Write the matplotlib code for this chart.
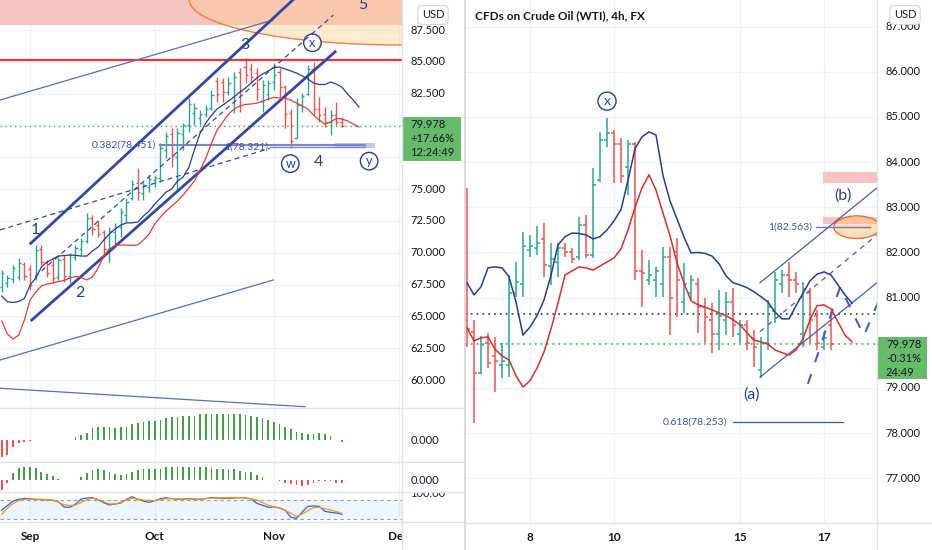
import numpy as np
import matplotlib
matplotlib.use("Agg")
import matplotlib.pyplot as plt
from matplotlib.patches import Rectangle, Ellipse
from matplotlib.lines import Line2D

plt.rcParams['font.family'] = ['Lato', 'DejaVu Sans']

W, H = 932, 550
UP, DOWN = '#26a69a', '#ef5350'
NAVY = '#2b3a97'
LABEL = '#22409a'
GRID = '#eef1f6'
SEP = '#e0e3eb'

# ---------------- daily chart (bar 0 = 1 Sep) ----------------
day_idx = np.arange(-5, 56)
day_open = [67.3, 67.6, 67.9, 68.1, 69.1, 68.7, 68.0, 70.3, 69.3, 69.0,
            68.1, 69.5, 68.2, 69.7, 70.3, 70.9, 72.7, 72.2, 71.6, 70.3,
            71.6, 72.0, 73.0, 74.3, 75.5, 74.7, 75.2, 75.7, 75.9, 78.1,
            79.3, 77.5, 79.3, 80.0, 81.0, 80.6, 80.9, 81.4, 83.5, 83.4,
            82.6, 82.2, 84.2, 84.6, 84.4, 84.1, 81.9, 82.5, 83.4, 84.2,
            83.0, 81.0, 79.0, 81.6, 82.5, 84.4, 81.3, 80.9, 80.3, 80.8, 80.3]
day_high = [68.64, 68.25, 69.04, 69.56, 69.3, 69.04, 70.6, 70.6, 69.43, 69.56,
            69.7, 69.82, 69.96, 70.6, 71.16, 73.1, 72.96, 72.57, 71.78, 72.05,
            72.3, 73.5, 74.3, 75.7, 76.66, 75.58, 76.1, 76.1, 78.6, 79.51,
            79.78, 79.78, 80.2, 82.13, 81.76, 81.21, 81.6, 82.79, 83.83, 83.7,
            83.83, 84.23, 84.49, 85.28, 84.88, 84.49, 83.57, 83.57, 84.88, 84.49,
            83.2, 81.3, 82.13, 82.53, 84.75, 85.01, 82.26, 81.47, 81.21, 81.87, 80.69]
day_low = [66.94, 67.33, 67.6, 67.86, 67.86, 67.07, 67.86, 69.04, 68.12, 67.6,
           67.86, 67.73, 67.6, 69.43, 69.82, 70.76, 71.39, 71.26, 69.82, 69.3,
           70.5, 71.26, 72.44, 74.14, 74.14, 74.14, 74.8, 75.2, 75.58, 77.42,
           76.76, 74.93, 78.07, 79.51, 80.04, 80.04, 80.69, 81.21, 81.87, 81.87,
           82.39, 80.95, 81.08, 83.31, 83.44, 82.0, 81.08, 82.0, 82.79, 82.26,
           79.8, 78.25, 78.99, 81.08, 82.4, 80.82, 80.3, 79.9, 79.25, 80.04, 79.9]
day_close = [68.4, 68.0, 68.8, 69.2, 68.2, 67.5, 70.2, 69.3, 68.4, 68.0,
             69.4, 68.2, 69.8, 70.4, 70.9, 72.7, 71.9, 71.5, 70.3, 71.7,
             72.0, 73.2, 74.0, 75.4, 74.8, 75.3, 75.8, 75.9, 78.2, 79.2,
             77.6, 79.4, 80.0, 81.7, 81.4, 80.9, 81.3, 82.4, 82.5, 82.6,
             83.3, 83.8, 82.7, 84.0, 83.8, 82.9, 83.2, 83.3, 84.0, 83.0,
             80.9, 78.8, 81.6, 82.3, 84.4, 81.3, 80.8, 80.3, 80.8, 80.3, 79.978]

# envelope lines run 3 bars past the last bar
day_line_idx = np.arange(-5, 59)
day_upper = [66.6, 66.15, 66.09, 66.17, 66.4, 67.46, 68.01, 68.88, 69.27, 69.51,
             69.74, 69.78, 69.82, 69.8, 69.74, 69.74, 70.14, 70.45, 71.0, 71.47,
             71.86, 72.18, 72.34, 72.35, 72.41, 72.89, 73.28, 73.83, 74.3, 74.77,
             75.01, 75.64, 75.95, 76.7, 78.1, 79.4, 80.2, 80.8, 81.3, 81.61,
             81.92, 82.24, 82.63, 82.94, 83.34, 83.73, 84.04, 84.28, 84.55, 84.59,
             84.44, 84.28, 84.12, 83.89, 83.65, 83.34, 83.22, 83.22, 83.41, 83.26,
             83.02, 82.47, 82.0, 81.45]
day_lower = [64.64, 63.61, 63.22, 63.53, 64.72, 66.29, 66.91, 67.39, 67.54, 67.62,
             67.74, 67.82, 68.01, 68.13, 68.05, 67.86, 68.09, 68.8, 69.74, 70.29,
             70.57, 70.61, 70.61, 70.58, 70.61, 71.0, 71.47, 72.26, 72.81, 73.28,
             73.67, 74.06, 74.54, 75.09, 75.64, 76.5, 77.44, 78.62, 79.64, 80.27,
             80.9, 81.29, 81.53, 81.65, 81.69, 81.76, 81.88, 82.08, 82.21, 82.16,
             82.12, 82.0, 81.76, 81.53, 81.29, 80.82, 80.43, 80.11, 80.27, 80.55,
             80.51, 80.35, 80.11, 79.88]

hist_a = [-17, -15, -7, -3, -1.5, -0.8,
          0.3, 0.3, 0.3, 0.3, 0.3, 0.3, 0.3,
          3, 5, 7, 12, 13, 13, 13, 12, 13, 13,
          16, 17, 18, 19, 19, 20, 22, 23, 23, 24,
          24, 24, 26, 26, 26, 26, 26, 26, 26, 26,
          25, 24, 23, 22, 20, 18, 16, 13, 11, 8,
          7, 6, 6, 7, 6, 4, 0.5, -2]
hist_b = [-10, -3, 7, 12, 13, 13, 12, 8, 6, 4,
          1, 0.5, 0.5, 0.5, 3, 7, 10, 11, 10, 8,
          6, 5, 6, 8, 10, 11, 11, 11, 11, 13,
          13, 13, 13, 13, 13, 13, 13, 12, 11, 11,
          11, 11, 9, 8, 8, 5, 3, 0.5, 0.5, -1,
          -3, -4, -5, -6, -5, -3, -0.5, -0.5, -1, -3, -3]
stoch_k = [48.4, 62, 76.8, 82.1, 85.3, 84.2, 82.1, 81, 80.5, 79,
           74.7, 57.9, 56.8, 66.3, 83.2, 86.3, 87.4, 81, 71.6, 64.2,
           67.4, 70.5, 82.1, 90.5, 82.1, 76.8, 72.6, 77.9, 84.2, 87.4,
           84.2, 82.1, 83.2, 84.2, 83.2, 82.1, 84.2, 87.4, 86.3, 85.3,
           85.3, 86.3, 87.4, 86.3, 83.2, 69.5, 63.2, 56.8, 57.9, 54.7,
           47.4, 25.3, 22.1, 42.1, 60, 61.1, 60, 44.2, 41.1, 39, 34.7]
stoch_d = [34.7, 53.7, 69.5, 77.9, 82.1, 83.2, 82.6, 82.1, 81, 80,
           72.6, 65.3, 62.1, 64.2, 72.6, 81, 85.3, 82.1, 74.7, 67.4,
           67.4, 72.6, 80, 85.3, 83.2, 80, 79, 77.9, 81, 84.2,
           84.2, 83.2, 83.2, 83.2, 82.1, 83.2, 85.3, 85.3, 86.3, 87.4,
           87.4, 88.4, 87.4, 86.3, 84.2, 80, 71.6, 63.2, 58.9, 55.8,
           47.4, 37.9, 28.4, 35.8, 46.3, 55.8, 56.8, 52.6, 48.4, 43.2, 37.9]

day_ticks = [0, 22, 43, 65]
day_tick_labels = ['Sep', 'Oct', 'Nov', 'Dec']
# 80.000 and 77.500 sit under the last-price tag, so they are not shown
day_price_ticks = [87.5, 85.0, 82.5, 80.0, 77.5, 75.0, 72.5, 70.0, 67.5, 65.0, 62.5, 60.0]
day_price_labels = [87.5, 85.0, 82.5, 75.0, 72.5, 70.0, 67.5, 65.0, 62.5, 60.0]

# ---------------- 4h chart (bar 9 = 8 Nov 00:00) ----------------
h4_idx = np.arange(0, 53)
h4_open = [80.5, 80.25, 79.33, 80.0, 79.7, 79.5, 79.5, 81.1, 81.3, 82.05,
           82.1, 82.3, 81.7, 81.8, 82.1, 82.0, 81.9, 82.6, 81.95, 83.6,
           84.5, 84.65, 84.4, 83.9, 84.4, 81.6, 81.4, 81.4, 81.3, 81.9,
           82.0, 80.9, 81.1, 81.3, 80.8, 80.5, 80.2, 80.5, 80.9, 80.2,
           80.4, 80.1, 79.4, 80.0, 80.7, 81.3, 81.5, 81.4, 80.2, 81.1,
           80.6, 79.9, 80.4]
h4_high = [83.43, 80.51, 80.14, 80.22, 80.13, 80.0, 81.5, 81.79, 82.45, 82.39,
           82.59, 82.65, 82.2, 82.2, 82.2, 82.1, 82.79, 82.83, 83.87, 84.67,
           84.98, 84.71, 84.53, 84.49, 84.45, 82.06, 81.83, 81.68, 82.13, 82.13,
           82.32, 81.77, 81.5, 81.44, 81.0, 80.88, 81.17, 81.13, 81.21, 80.5,
           80.5, 80.28, 80.13, 80.95, 81.57, 81.61, 81.79, 81.57, 81.35, 81.21,
           80.73, 80.24, 80.68]
h4_low = [79.91, 78.23, 79.3, 79.44, 78.91, 79.22, 79.24, 81.01, 81.01, 81.9,
          81.94, 81.46, 81.28, 81.46, 81.9, 81.77, 81.83, 81.88, 81.88, 83.56,
          84.34, 83.54, 83.54, 83.27, 81.39, 80.79, 81.28, 81.02, 81.02, 80.17,
          80.57, 80.66, 80.95, 80.22, 80.0, 79.78, 79.84, 80.17, 80.13, 80.0,
          79.84, 79.47, 79.22, 79.84, 80.44, 81.1, 81.02, 81.1, 79.91, 80.0,
          79.84, 79.84, 79.84]
h4_close = [80.3, 79.33, 79.95, 79.55, 79.6, 79.6, 81.1, 81.35, 82.14, 82.15,
            82.2, 81.72, 81.85, 82.1, 82.0, 81.85, 82.6, 81.95, 83.5, 84.5,
            84.65, 84.4, 83.7, 84.4, 81.6, 81.55, 81.5, 81.6, 81.9, 81.0,
            81.4, 81.3, 81.4, 80.8, 80.57, 80.2, 80.6, 80.9, 80.4, 80.4,
            80.0, 79.9, 80.0, 80.8, 81.4, 81.5, 81.4, 81.3, 81.2, 80.5,
            80.0, 80.1, 79.978]
h4_line_idx = np.arange(0, 56)
h4_upper = [81.33, 81.06, 81.24, 81.66, 81.68, 81.66, 81.46, 80.9, 80.17, 80.35,
            80.6, 80.95, 81.5, 82.17, 82.35, 82.43, 82.42, 82.39, 82.3, 82.35,
            82.5, 82.7, 82.95, 83.6, 84.3, 84.56, 84.67, 84.6, 83.7, 83.14,
            82.74, 82.34, 81.99, 82.0, 81.98, 81.92, 81.75, 81.48, 81.33, 81.28,
            81.22, 81.13, 81.02, 80.9, 80.68, 80.53, 80.53, 80.82, 81.1, 81.37,
            81.52, 81.57, 81.5, 81.28, 81.06, 80.88]
h4_lower = [80.33, 80.04, 80.11, 80.13, 79.86, 79.71, 79.62, 79.27, 79.02, 79.16,
            79.44, 79.8, 80.31, 80.88, 81.5, 81.59, 81.68, 81.66, 81.61, 81.7,
            81.79, 81.88, 82.08, 82.5, 83.0, 83.43, 83.72, 83.38, 82.87, 82.37,
            81.77, 81.32, 80.93, 80.84, 80.79, 80.73, 80.66, 80.6, 80.51, 80.4,
            80.22, 80.06, 80.02, 79.97, 79.84, 79.78, 79.73, 79.84, 80.09, 80.51,
            80.82, 80.84, 80.75, 80.46, 80.17, 80.02]
h4_ticks = [9, 21, 39, 51]
h4_tick_labels = ['8', '10', '15', '17']
h4_price_ticks = [87, 86, 85, 84, 83, 82, 81, 80, 79, 78, 77]
h4_price_labels = [87, 86, 85, 84, 83, 82, 81, 79, 78, 77]
last_price = 79.978


def fbox(x0, y0, x1, y1):
    # pixel box (top-left origin) -> figure fraction rect
    return [x0 / W, 1 - y1 / H, (x1 - x0) / W, (y1 - y0) / H]


def fline(x0, y0, x1, y1, **kw):
    fig.add_artist(Line2D([x0 / W, x1 / W], [1 - y0 / H, 1 - y1 / H],
                          transform=fig.transFigure, **kw))


def ftext(x, y, s, **kw):
    fig.text(x / W, 1 - y / H, s, **kw)


def ohlc(ax, x, o, h, l, c, tick, lw=1.0):
    o, h, l, c = map(np.asarray, (o, h, l, c))
    col = np.where(c >= o, UP, DOWN)
    ax.vlines(x, l, h, colors=col, lw=lw)
    ax.hlines(o, x - tick, x, colors=col, lw=lw)
    ax.hlines(c, x, x + tick, colors=col, lw=lw)


def circled(ax, x, y, s, size=9):
    ax.text(x, y, s, ha='center', va='center', fontsize=size, color=LABEL,
            bbox=dict(boxstyle='circle,pad=0.22', fc='white', ec=LABEL, lw=1.0))


def new_ax(box, xlim, ylim):
    a = fig.add_axes(fbox(*box))
    a.set_xlim(*xlim)
    a.set_ylim(*ylim)
    a.set_axis_off()
    return a


fig = plt.figure(figsize=(W / 100, H / 100), dpi=100)

# ================= left: daily =================
LX = (-5.3, 65.6)
ax = new_ax((0, 0, 402, 408), LX, (57.80, 89.86))
ax_h1 = new_ax((0, 408, 402, 462), LX, (-22, 32))
ax_h2 = new_ax((0, 462, 402, 492), LX, (-12, 18))
ax_st = new_ax((0, 492, 402, 522), LX, (10.5, 105.3))
ax_dd = new_ax((0, 522, 402, 550), LX, (0, 1))

for a in (ax, ax_h1, ax_h2, ax_st):
    for t in day_ticks:
        a.axvline(t, color=GRID, lw=0.9, zorder=0)
for p in day_price_ticks:
    ax.axhline(p, color=GRID, lw=0.9, zorder=0)

# zone at the top and target ellipse
ax.axhspan(87.89, 95, color='#f6c3c3', lw=0, zorder=1)
ax.add_patch(Ellipse((65.3, 89.86), 74.4, 7.07, fc='#ffd08a', alpha=0.4,
                     ec='none', zorder=2))
ax.add_patch(Ellipse((65.3, 89.86), 74.4, 7.07, fc='none', ec='#ef7d3c',
                     lw=1.0, zorder=2))

ax.axhline(85.16, color='#e53935', lw=1.6, zorder=3)
ax.axhline(last_price, color='#4caf50', lw=1.0, ls=(0, (1, 2.5)), zorder=3)

# trend lines
ax.plot([-5.29, 42.86], [82.0, 88.29], color='#5c6bc0', lw=0.9, zorder=3)
ax.plot([-5.29, 42.9], [61.57, 67.86], color='#5c6bc0', lw=0.9, zorder=3)
ax.plot([-5.29, 48.5], [59.35, 57.9], color='#5c6bc0', lw=0.9, zorder=3)
ax.plot([0.12, 52.0], [70.74, 92.2], color='#3446a6', lw=2.0, zorder=4)
ax.plot([0.3, 53.8], [64.71, 85.79], color='#3446a6', lw=2.0, zorder=4)
ax.plot([0.88, 53.5], [68.12, 88.68], color='#3446a6', lw=0.9,
        ls=(0, (4, 3)), zorder=4)
ax.plot([-5.29, 42.3], [71.79, 78.2], color='#3446a6', lw=0.9,
        ls=(0, (4, 3)), zorder=4)

# fib levels
ax.add_patch(Rectangle((53.8, 78.25), 7.1, 0.4, fc='#bcc8f0', ec='none', zorder=3))
ax.plot([23.0, 59.0], [78.451, 78.451], color='#7986cb', lw=1.5, zorder=3)
ax.plot([42.3, 59.0], [78.321, 78.321], color='#7986cb', lw=1.0, zorder=3)
ax.text(22.2, 78.451, '0.382(78.451)', ha='right', va='center', fontsize=7.5,
        color='#3f51a5', zorder=5)
ax.text(42.0, 78.321, '1(78.321)', ha='right', va='center', fontsize=7.5,
        color='#3f51a5', zorder=5)

ax.plot(day_line_idx, day_upper, color=NAVY, lw=0.9, zorder=5)
ax.plot(day_line_idx, day_lower, color='#e53935', lw=0.9, zorder=5)
ohlc(ax, day_idx, day_open, day_high, day_low, day_close, 0.38, lw=1.0)

for s, x, y in [('1', 0.9, 71.8), ('2', 8.8, 66.8), ('3', 37.9, 86.3),
                ('4', 50.85, 77.1), ('5', 58.7, 89.45)]:
    ax.text(x, y, s, ha='center', va='center', fontsize=11.5, color=LABEL, zorder=6)
circled(ax, 45.9, 77.0, 'w')
circled(ax, 49.8, 86.5, 'x')
circled(ax, 59.8, 77.2, 'y')

# oscillators
hcol = np.where(np.asarray(hist_a) >= 0, '#43a047', DOWN)
ax_h1.bar(day_idx, hist_a, width=0.32, color=hcol)
hcol = np.where(np.asarray(hist_b) >= 0, '#43a047', DOWN)
ax_h2.bar(day_idx, hist_b, width=0.32, color=hcol)
ax_st.axhspan(20, 80, color='#2196f3', alpha=0.08, lw=0)
ax_st.axhline(80, color='#9598a1', lw=0.8, ls=(0, (3, 3)))
ax_st.axhline(20, color='#9598a1', lw=0.8, ls=(0, (3, 3)))
ax_st.plot(day_idx, stoch_k, color='#2962ff', lw=0.9)
ax_st.plot(day_idx, stoch_d, color='#ff9800', lw=0.9)

for t, s in zip(day_ticks, day_tick_labels):
    ax_dd.text(t, 0.5, s, ha='center', va='center', fontsize=8.5,
               fontweight='bold', color='#131722', clip_on=True)

# price scale of the left chart
sc = new_ax((402, 0, 466, 408), (0, 1), ax.get_ylim())
for p in day_price_labels:
    sc.text(0.13, p, f'{p:.3f}', va='center', ha='left', fontsize=8,
            color='#131722', clip_on=True)
sc1 = new_ax((402, 408, 466, 462), (0, 1), ax_h1.get_ylim())
sc1.text(0.13, 0, '0.000', va='center', fontsize=8, color='#131722', clip_on=True)
sc2 = new_ax((402, 462, 466, 492), (0, 1), ax_h2.get_ylim())
sc2.text(0.13, 0, '0.000', va='center', fontsize=8, color='#131722', clip_on=True)
sc3 = new_ax((402, 492, 466, 522), (0, 1), ax_st.get_ylim())
sc3.text(0.13, 100, '100.00', va='center', fontsize=8, color='#131722', clip_on=True)

# ================= right: 4h =================
RX = (-0.29, 58.57)
ar = new_ax((465, 0, 877, 523), RX, (76.01, 87.59))
ard = new_ax((465, 523, 877, 550), RX, (0, 1))
for t in h4_ticks:
    ar.axvline(t, color=GRID, lw=0.9, zorder=0)
for p in h4_price_ticks:
    ar.axhline(p, color=GRID, lw=0.9, zorder=0)

ar.axhline(80.64, color='#333333', lw=1.2, ls=(0, (1, 2.5)), zorder=2)
ar.axhline(last_price, color='#4caf50', lw=1.2, ls=(0, (1, 2.5)), zorder=2)

ar.add_patch(Rectangle((50.9, 83.54), 8, 0.24, fc='#f8c2c2', ec='none', zorder=1))
ar.add_patch(Rectangle((50.9, 82.63), 8, 0.16, fc='#f8c2c2', ec='none', zorder=1))
ar.add_patch(Ellipse((55.7, 82.56), 6.6, 0.5, fc='#ffc078', alpha=0.5, ec='none', zorder=2))
ar.add_patch(Ellipse((55.7, 82.56), 6.6, 0.5, fc='none', ec='#ea6b3a', lw=1.0, zorder=2))
ar.plot([49.9, 57.6], [82.563, 82.563], color='#6f7bb8', lw=1.0, zorder=3)
ar.text(49.3, 82.563, '1(82.563)', ha='right', va='center', fontsize=7.5,
        color='#3f51a5', zorder=5)
ar.plot([38.0, 53.7], [78.253, 78.253], color='#3f51a5', lw=0.9, zorder=3)
ar.text(37.1, 78.253, '0.618(78.253)', ha='right', va='center', fontsize=7.5,
        color='#3f51a5', zorder=5)

# channel
ar.plot([41.86, 58.57], [81.33, 83.43], color='#4a5ab4', lw=0.9, zorder=3)
ar.plot([41.86, 58.57], [80.25, 82.39], color='#4a5ab4', lw=0.9,
        ls=(0, (4, 4)), zorder=3)
ar.plot([41.86, 58.57], [79.24, 81.33], color='#4a5ab4', lw=0.9, zorder=3)
ar.plot([48.7, 53.3, 56.7, 59.0], [79.09, 81.24, 80.16, 81.0], color='#4a5fc1',
        lw=1.5, ls=(0, (5, 6)), zorder=3)

ar.plot(h4_line_idx, h4_upper, color=NAVY, lw=1.1, zorder=4)
ar.plot(h4_line_idx, h4_lower, color='#d32f2f', lw=1.1, zorder=4)
ohlc(ar, h4_idx, h4_open, h4_high, h4_low, h4_close, 0.38, lw=1.1)

circled(ar, 20, 85.35, 'x', size=10)
ar.text(53.7, 83.27, '(b)', ha='center', va='center', fontsize=11.5, color=LABEL, zorder=6)
ar.text(40.7, 78.85, '(a)', ha='center', va='center', fontsize=11.5, color=LABEL, zorder=6)

for t, s in zip(h4_ticks, h4_tick_labels):
    ard.text(t, 0.45, s, ha='center', va='center', fontsize=8.5,
             fontweight='bold', color='#131722', clip_on=True)

rs = new_ax((877, 0, 932, 523), (0, 1), ar.get_ylim())
for p in h4_price_labels:
    rs.text(0.16, p, f'{p:.3f}', va='center', ha='left', fontsize=8,
            color='#131722', clip_on=True)

ftext(475, 16, 'CFDs on Crude Oil (WTI), 4h, FX', ha='left', va='center',
      fontsize=8.5, fontweight='bold', color='#131722')

# ================= frame, separators, tags =================
fline(402, 0, 402, 550, color=SEP, lw=1)
for yy in (408, 462, 492, 522):
    fline(0, yy, 465, yy, color=SEP, lw=1)
fline(465, 0, 465, 550, color='#d1d4dc', lw=1.2)
fline(877, 0, 877, 550, color=SEP, lw=1)
fline(465, 523, 932, 523, color=SEP, lw=1)

fig.add_artist(Rectangle((402 / W, 1 - 161 / H), 59 / W, 44 / H, fc='#66bb6a',
                         ec='none', transform=fig.transFigure))
for yy, s in [(125, '79.978'), (139, '+17.66%'), (153, '12:24:49')]:
    ftext(410, yy, s, ha='left', va='center', fontsize=8, color='#131722')
fig.add_artist(Rectangle((877 / W, 1 - 379 / H), 50 / W, 42 / H, fc='#66bb6a',
                         ec='none', transform=fig.transFigure))
for yy, s in [(345, '79.978'), (359, '-0.31%'), (372, '24:49')]:
    ftext(886, yy, s, ha='left', va='center', fontsize=8, color='#131722')

for xx in (433, 905):
    ftext(xx, 15, 'USD', ha='center', va='center', fontsize=8, color='#131722',
          bbox=dict(boxstyle='round,pad=0.35', fc='white', ec='#d1d4dc', lw=0.8))

fig.savefig('out.png', dpi=100)
